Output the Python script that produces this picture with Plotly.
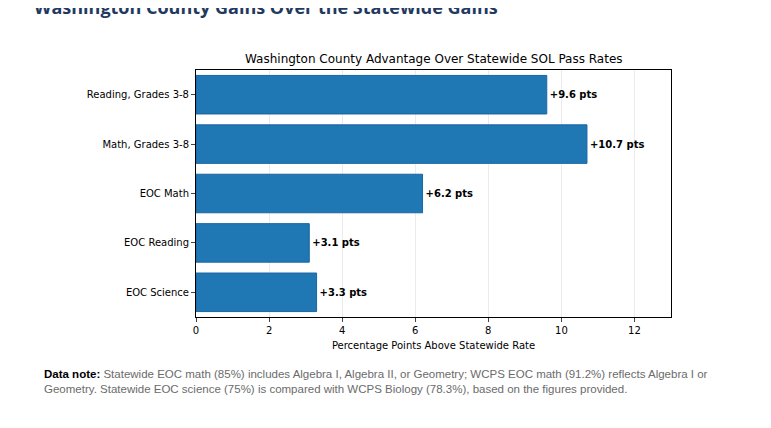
import plotly.graph_objects as go

categories = ["Reading, Grades 3-8", "Math, Grades 3-8", "EOC Math", "EOC Reading", "EOC Science"]
advantage = [9.6, 10.7, 6.2, 3.1, 3.3]
labels = ["+{} pts".format(v) for v in advantage]

fig = go.Figure()
fig.add_trace(go.Bar(
    y=categories, x=advantage, orientation="h",
    marker=dict(color="#1f77b4", line=dict(color="#1a65a0", width=1)),
    width=0.78,
    text=labels, textposition="outside",
    textfont=dict(family="DejaVu Sans", size=10, color="black", weight="bold"),
    cliponaxis=False, showlegend=False,
))

fig.update_layout(
    width=771, height=428,
    margin=dict(l=188, r=108, t=62, b=119),
    plot_bgcolor="white", paper_bgcolor="white",
    font=dict(family="DejaVu Sans", size=10, color="black"),
    bargap=0.22,
)
fig.update_xaxes(range=[0, 13], dtick=2, showgrid=True, gridcolor="#ebebeb",
                 showline=True, linecolor="black", mirror=True, ticks="outside",
                 ticklen=4, zeroline=False,
                 title=dict(text="Percentage Points Above Statewide Rate", font=dict(size=10), standoff=6))
fig.update_yaxes(autorange="reversed", showline=True, linecolor="black", mirror=True,
                 ticks="outside", ticklen=4, showgrid=False)

fig.add_annotation(text="<b>Washington County Gains Over the Statewide Gains</b>",
                   xref="paper", yref="paper", x=-0.345, y=1.2, xanchor="left", yanchor="bottom",
                   showarrow=False, font=dict(family="Open Sans", size=18, color="#1f3a5f"))
fig.add_annotation(text="Washington County Advantage Over Statewide SOL Pass Rates",
                   xref="paper", yref="paper", x=0.5, y=1.0, xanchor="center", yanchor="bottom",
                   yshift=2, showarrow=False, font=dict(size=12))
fig.add_annotation(
    text="<b><span style='color:black'>Data note:</span></b> Statewide EOC math (85%) includes Algebra I, Algebra II, or Geometry; WCPS EOC math (91.2%) reflects Algebra I or<br>"
         "Geometry. Statewide EOC science (75%) is compared with WCPS Biology (78.3%), based on the figures provided.",
    xref="paper", yref="paper", x=-0.325, y=-0.2, xanchor="left", yanchor="top", align="left",
    showarrow=False, font=dict(family="Liberation Sans", size=11.5, color="#6b6b6b"))

fig.write_html("out.html")
